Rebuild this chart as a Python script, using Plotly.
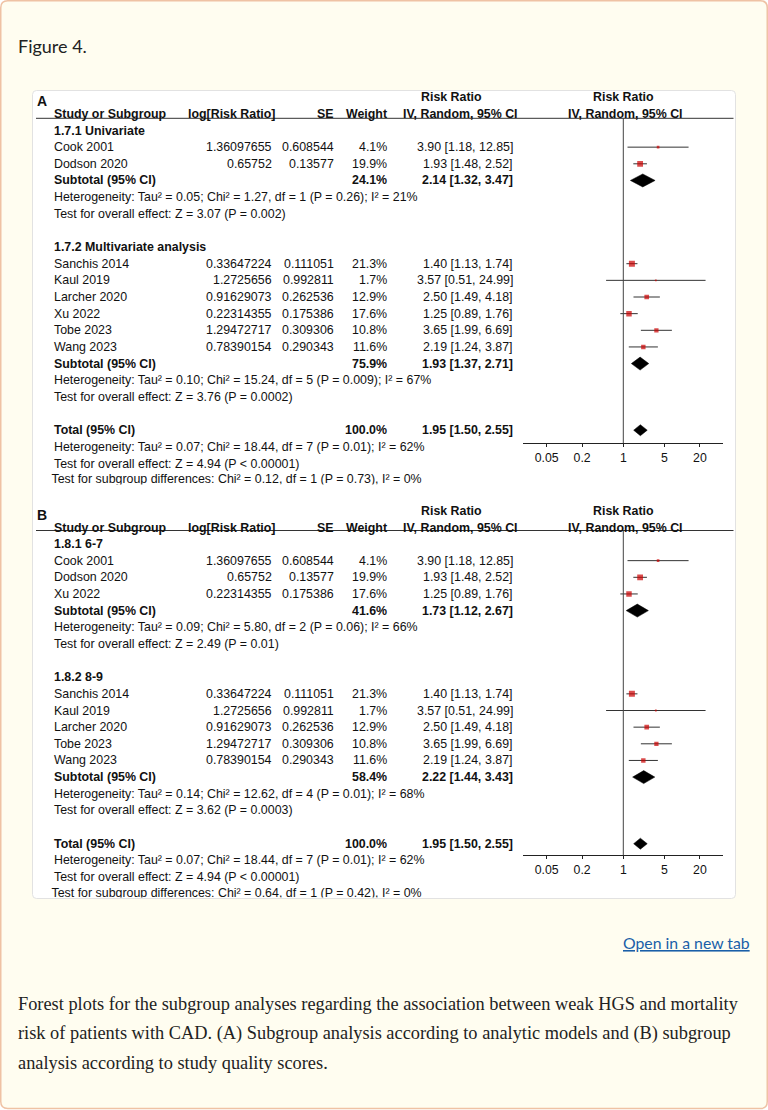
import math
import plotly.graph_objects as go

W, H = 768, 1110

# ---------------- data ----------------
study_names = ["Cook 2001", "Dodson 2020", "Sanchis 2014", "Kaul 2019",
               "Larcher 2020", "Xu 2022", "Tobe 2023", "Wang 2023"]
log_rr = [1.36097655, 0.65752, 0.33647224, 1.2725656,
          0.91629073, 0.22314355, 1.29472717, 0.78390154]
se_log_rr = [0.608544, 0.13577, 0.111051, 0.992811,
             0.262536, 0.175386, 0.309306, 0.290343]
weight_pct = [4.1, 19.9, 21.3, 1.7, 12.9, 17.6, 10.8, 11.6]
rr = [3.90, 1.93, 1.40, 3.57, 2.50, 1.25, 3.65, 2.19]
ci_low = [1.18, 1.48, 1.13, 0.51, 1.49, 0.89, 1.99, 1.24]
ci_high = [12.85, 2.52, 1.74, 24.99, 4.18, 1.76, 6.69, 3.87]

axis_ticks = [0.05, 0.2, 1, 5, 20]
axis_tick_labels = ["0.05", "0.2", "1", "5", "20"]
axis_limits = [0.02, 50]

# Panel A: analytic models
A_titles = ["1.7.1 Univariate", "1.7.2 Multivariate analysis"]
A_members = [["Cook 2001", "Dodson 2020"],
             ["Sanchis 2014", "Kaul 2019", "Larcher 2020", "Xu 2022", "Tobe 2023", "Wang 2023"]]
A_sub_weight = [24.1, 75.9]
A_sub_rr = [2.14, 1.93]
A_sub_low = [1.32, 1.37]
A_sub_high = [3.47, 2.71]
A_sub_het = ["Heterogeneity: Tau² = 0.05; Chi² = 1.27, df = 1 (P = 0.26); I² = 21%",
             "Heterogeneity: Tau² = 0.10; Chi² = 15.24, df = 5 (P = 0.009); I² = 67%"]
A_sub_effect = ["Test for overall effect: Z = 3.07 (P = 0.002)",
                "Test for overall effect: Z = 3.76 (P = 0.0002)"]
A_subgroup_diff = "Test for subgroup differences: Chi² = 0.12, df = 1 (P = 0.73), I² = 0%"

# Panel B: study quality scores
B_titles = ["1.8.1 6-7", "1.8.2 8-9"]
B_members = [["Cook 2001", "Dodson 2020", "Xu 2022"],
             ["Sanchis 2014", "Kaul 2019", "Larcher 2020", "Tobe 2023", "Wang 2023"]]
B_sub_weight = [41.6, 58.4]
B_sub_rr = [1.73, 2.22]
B_sub_low = [1.12, 1.44]
B_sub_high = [2.67, 3.43]
B_sub_het = ["Heterogeneity: Tau² = 0.09; Chi² = 5.80, df = 2 (P = 0.06); I² = 66%",
             "Heterogeneity: Tau² = 0.14; Chi² = 12.62, df = 4 (P = 0.01); I² = 68%"]
B_sub_effect = ["Test for overall effect: Z = 2.49 (P = 0.01)",
                "Test for overall effect: Z = 3.62 (P = 0.0003)"]
B_subgroup_diff = "Test for subgroup differences: Chi² = 0.64, df = 1 (P = 0.42), I² = 0%"

total_weight = 100.0
total_rr = 1.95
total_low = 1.50
total_high = 2.55
total_het = "Heterogeneity: Tau² = 0.07; Chi² = 18.44, df = 7 (P = 0.01); I² = 62%"
total_effect = "Test for overall effect: Z = 4.94 (P < 0.00001)"

header_labels = ["Study or Subgroup", "log[Risk Ratio]", "SE", "Weight",
                 "Risk Ratio", "IV, Random, 95% CI"]

page_title = "Figure 4."
link_text = "Open in a new tab"
caption_lines = [
    "Forest plots for the subgroup analyses regarding the association between weak HGS and mortality",
    "risk of patients with CAD. (A) Subgroup analysis according to analytic models and (B) subgroup",
    "analysis according to study quality scores.",
]

# ---------------- helpers ----------------
def X(p):
    return p / W


def Y(p):
    return 1 - p / H


FONT = "Liberation Sans, Arial, Helvetica, sans-serif"
FS = 12.4
INK = "#111111"
LINE = "#333333"
RED = "#cc0000"
PAGE_BG = "#fffdf0"

COL_NAME = 53
COL_LOG = 272.5
COL_SE = 334.5
COL_W = 387.5
COL_CI = 513.5
PLOT_L, PLOT_R = 523.3, 723.3
ROW_H = 16.65

fig = go.Figure()
ann = []
shapes = []
extra_axes = {}


def text(x, ypx, s, anchor="left", bold=False, size=FS, color=INK, family=FONT):
    ann.append(dict(
        x=X(x), xref="paper", y=Y(ypx), yref="paper",
        text=f"<b>{s}</b>" if bold else s,
        xanchor=anchor, yanchor="middle", showarrow=False, borderpad=0,
        font=dict(family=family, size=size, color=color)))


def fmt_ci(e, lo, hi):
    return f"{e:.2f} [{lo:.2f}, {hi:.2f}]"


def rrect_path(x0, y0, x1, y1, r):
    return (f"M {X(x0 + r)},{Y(y0)} L {X(x1 - r)},{Y(y0)} "
            f"Q {X(x1)},{Y(y0)} {X(x1)},{Y(y0 + r)} L {X(x1)},{Y(y1 - r)} "
            f"Q {X(x1)},{Y(y1)} {X(x1 - r)},{Y(y1)} L {X(x0 + r)},{Y(y1)} "
            f"Q {X(x0)},{Y(y1)} {X(x0)},{Y(y1 - r)} L {X(x0)},{Y(y0 + r)} "
            f"Q {X(x0)},{Y(y0)} {X(x0 + r)},{Y(y0)} Z")


def diamond(xa, ya, est, lo, hi, row, half):
    fig.add_trace(go.Scatter(
        x=[lo, est, hi, est, lo], y=[row, row - half, row, row + half, row],
        xaxis=xa, yaxis=ya, mode="lines", fill="toself",
        fillcolor="#000000", line=dict(color="#000000", width=0.5),
        hoverinfo="skip", showlegend=False))


def panel(label, sfx, clip_sfx, row0_px, top_px, axis_px, clip_px, titles, members,
          sw, srr, slo, shi, shet, seff, sdiff):
    xa, ya = "x" + sfx, "y" + sfx
    ci_x, ci_y, sq_x, sq_y, sq_s = [], [], [], [], []

    def rp(r):
        return row0_px + r * ROW_H

    # headers
    text(35.5, rp(-1.75), label, "left", bold=True, size=14)
    text(451, rp(-2.0), header_labels[4], "center", bold=True)
    text(623.5, rp(-2.0), header_labels[4], "center", bold=True)
    text(COL_NAME, rp(-0.97), header_labels[0], "left", bold=True)
    text(275.5, rp(-0.97), header_labels[1], "right", bold=True)
    text(COL_SE, rp(-0.97), header_labels[2], "right", bold=True)
    text(COL_W, rp(-0.97), header_labels[3], "right", bold=True)
    text(518.5, rp(-0.97), header_labels[5], "right", bold=True)
    text(625.5, rp(-0.97), header_labels[5], "center", bold=True)
    shapes.append(dict(type="line", xref="paper", yref="paper",
                       x0=X(36), x1=X(733.5), y0=Y(top_px), y1=Y(top_px),
                       line=dict(color=LINE, width=1)))
    shapes.append(dict(type="line", xref=xa, yref=ya + " domain",
                       x0=1, x1=1, y0=0, y1=1, line=dict(color="#444444", width=1)))

    r = 0
    for g, title in enumerate(titles):
        text(COL_NAME, rp(r), title, "left", bold=True)
        r += 1
        for name in members[g]:
            i = study_names.index(name)
            text(COL_NAME, rp(r), name, "left")
            text(COL_LOG, rp(r), str(log_rr[i]), "right")
            text(COL_SE, rp(r), str(se_log_rr[i]), "right")
            text(COL_W, rp(r), f"{weight_pct[i]:.1f}%", "right")
            text(COL_CI, rp(r), fmt_ci(rr[i], ci_low[i], ci_high[i]), "right")
            ci_x += [ci_low[i], ci_high[i], None]
            ci_y += [r, r, None]
            sq_x.append(rr[i])
            sq_y.append(r)
            sq_s.append(max(1.8, 1.3 * math.sqrt(weight_pct[i])))
            r += 1
        text(COL_NAME, rp(r), "Subtotal (95% CI)", "left", bold=True)
        text(COL_W, rp(r), f"{sw[g]:.1f}%", "right", bold=True)
        text(COL_CI, rp(r), fmt_ci(srr[g], slo[g], shi[g]), "right", bold=True)
        diamond(xa, ya, srr[g], slo[g], shi[g], r, 0.39)
        r += 1
        text(COL_NAME, rp(r), shet[g], "left")
        r += 1
        text(COL_NAME, rp(r), seff[g], "left")
        r += 2

    text(COL_NAME, rp(r), "Total (95% CI)", "left", bold=True)
    text(COL_W, rp(r), f"{total_weight:.1f}%", "right", bold=True)
    text(COL_CI, rp(r), fmt_ci(total_rr, total_low, total_high), "right", bold=True)
    diamond(xa, ya, total_rr, total_low, total_high, r, 0.33)
    text(COL_NAME, rp(r + 1), total_het, "left")
    text(COL_NAME, rp(r + 2), total_effect, "left")

    # last line is cut off by the bottom edge of the panel image -> clipped text trace
    cx, cy = "x" + clip_sfx, "y" + clip_sfx
    fig.add_trace(go.Scatter(x=[COL_NAME - 1.5], y=[rp(r + 3)], xaxis=cx, yaxis=cy,
                             mode="text", text=[sdiff], textposition="middle right",
                             textfont=dict(family=FONT, size=FS, color=INK),
                             cliponaxis=True, hoverinfo="skip", showlegend=False))
    extra_axes["xaxis" + clip_sfx] = dict(domain=[0, 1], range=[0, W], visible=False,
                                          anchor=cy, fixedrange=True)
    extra_axes["yaxis" + clip_sfx] = dict(domain=[Y(clip_px), Y(top_px)],
                                          range=[clip_px, top_px], visible=False,
                                          anchor=cx, fixedrange=True)

    fig.add_trace(go.Scatter(x=ci_x, y=ci_y, xaxis=xa, yaxis=ya, mode="lines",
                             line=dict(color=LINE, width=1), hoverinfo="skip",
                             showlegend=False))
    fig.add_trace(go.Scatter(x=sq_x, y=sq_y, xaxis=xa, yaxis=ya, mode="markers",
                             marker=dict(symbol="square", size=sq_s, color=RED,
                                         line=dict(width=0)),
                             hoverinfo="skip", showlegend=False))

    xkey = "xaxis" + sfx
    ykey = "yaxis" + sfx
    axes = {
        xkey: dict(type="log", range=[math.log10(axis_limits[0]), math.log10(axis_limits[1])],
                   domain=[X(PLOT_L), X(PLOT_R)], anchor=ya, showline=True,
                   linecolor="#222222", linewidth=1, ticks="outside", ticklen=3,
                   tickwidth=1, tickcolor="#222222", tickmode="array",
                   tickvals=axis_ticks, ticktext=axis_tick_labels,
                   tickfont=dict(family=FONT, size=12.3, color=INK),
                   ticklabelstandoff=0,
                   showgrid=False, zeroline=False, fixedrange=True),
        ykey: dict(range=[(axis_px - row0_px) / ROW_H, (top_px - row0_px) / ROW_H],
                   domain=[Y(axis_px), Y(top_px)], anchor=xa, visible=False,
                   showgrid=False, zeroline=False, fixedrange=True),
    }
    return axes


# page card and image box
shapes.append(dict(type="path", xref="paper", yref="paper", layer="below",
                   path=rrect_path(0.75, 0.75, 767.25, 1108.5, 7),
                   fillcolor=PAGE_BG, line=dict(color="#efc2a4", width=1.5)))
shapes.append(dict(type="path", xref="paper", yref="paper", layer="below",
                   path=rrect_path(32.5, 90.5, 735.5, 898.5, 4),
                   fillcolor="#ffffff", line=dict(color="#e2e2e2", width=1)))

axesA = panel("A", "", "3", 130.5, 118.3, 443, 484.5, A_titles, A_members,
              A_sub_weight, A_sub_rr, A_sub_low, A_sub_high, A_sub_het, A_sub_effect,
              A_subgroup_diff)
axesB = panel("B", "2", "4", 544, 530.5, 855, 897.5, B_titles, B_members,
              B_sub_weight, B_sub_rr, B_sub_low, B_sub_high, B_sub_het, B_sub_effect,
              B_subgroup_diff)

# page texts
text(17, 46, page_title, "left", size=18, color="#222222", family="Lato, Open Sans, sans-serif")
text(751, 942, f"<u>{link_text}</u>", "right", size=15.8, color="#1a5fa8",
     family="Lato, Open Sans, sans-serif")
for k, line in enumerate(caption_lines):
    text(17, 1004 + 29.3 * k, line, "left", size=18.35, color="#222222",
         family="Liberation Serif, Times New Roman, serif")

fig.update_layout(
    width=W, height=H, margin=dict(l=0, r=0, t=0, b=0, pad=0),
    paper_bgcolor="#ffffff", plot_bgcolor="rgba(0,0,0,0)",
    showlegend=False, hovermode=False,
    annotations=ann, shapes=shapes,
    **axesA, **axesB, **extra_axes,
)

fig.write_html("out.html", config={"displayModeBar": False, "staticPlot": True},
               post_script="document.body.style.margin='0';document.body.style.overflow='hidden';")
